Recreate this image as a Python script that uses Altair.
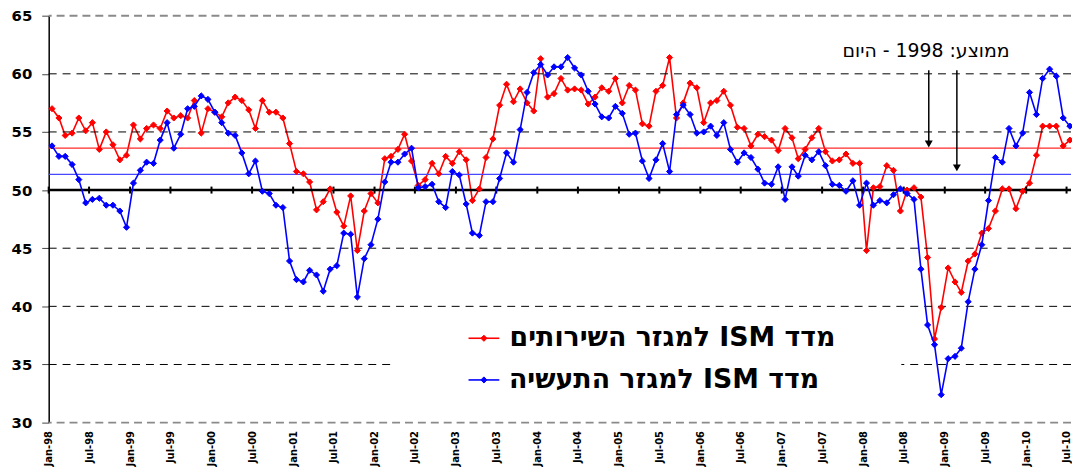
import altair as alt
import pandas as pd

# ---------------- data ----------------
services_name = "מדד ISM למגזר השירותים"
manufacturing_name = "מדד ISM למגזר התעשיה"

services = [
    57.0, 56.2, 54.7, 54.9, 56.2, 55.1, 55.8, 53.5, 55.0, 53.9, 52.6, 53.0,
    55.6, 54.4, 55.3, 55.6, 55.3, 56.8, 56.2, 56.4, 56.2, 57.7, 54.9, 57.0,
    56.7, 56.3, 57.5, 58.0, 57.7, 56.9, 55.3, 57.7, 56.7, 56.7, 56.2, 54.0,
    51.6, 51.4, 50.7, 48.3, 49.0, 50.1, 48.1, 46.9, 49.5, 44.8, 48.2, 49.7,
    48.9, 52.7, 52.9, 53.5, 54.8, 52.5, 50.4, 50.9, 52.3, 51.4, 52.9, 52.3,
    53.3, 52.6, 49.1, 50.1, 52.8, 54.4, 57.3, 59.1, 57.6, 58.7, 57.5, 56.8,
    61.3, 58.0, 58.3, 59.6, 58.6, 58.7, 58.6, 57.4, 58.0, 58.8, 58.5, 59.6,
    57.5, 59.0, 58.6, 55.7, 55.5, 58.5, 59.0, 61.4, 56.2, 57.5, 59.2, 58.8,
    55.8, 57.5, 57.7, 58.5, 57.3, 55.4, 55.3, 53.8, 54.8, 54.6, 54.3, 53.4,
    55.3, 54.5, 52.7, 53.5, 54.5, 55.3, 53.3, 52.5, 52.6, 53.1, 52.3, 52.3,
    44.8, 50.2, 50.3, 52.1, 51.7, 48.2, 50.0, 50.2, 49.4, 44.2, 37.2, 39.9,
    43.3, 42.1, 41.2, 43.9, 44.5, 46.3, 46.7, 48.2, 50.1, 50.1, 48.4, 49.9,
    50.6, 53.0, 55.5, 55.5, 55.5, 53.8, 54.3,
]

manufacturing = [
    53.8, 52.9, 52.9, 52.2, 50.9, 48.9, 49.2, 49.3, 48.7, 48.7, 48.2, 46.8,
    50.6, 51.7, 52.4, 52.3, 54.3, 55.8, 53.6, 54.8, 57.0, 57.2, 58.1, 57.8,
    56.7, 55.8, 54.9, 54.7, 53.2, 51.4, 52.5, 49.9, 49.7, 48.7, 48.5, 43.9,
    42.3, 42.1, 43.1, 42.7, 41.3, 43.2, 43.5, 46.3, 46.2, 40.8, 44.1, 45.3,
    47.5, 50.7, 52.4, 52.4, 53.1, 53.6, 50.2, 50.3, 50.5, 49.0, 48.5, 51.6,
    51.3, 48.8, 46.3, 46.1, 49.0, 49.0, 51.0, 53.2, 52.4, 55.2, 58.4, 60.1,
    60.8, 59.9, 60.6, 60.6, 61.4, 60.5, 59.9, 58.5, 57.4, 56.3, 56.2, 57.2,
    56.6, 54.8, 54.9, 52.5, 51.0, 52.6, 54.0, 51.6, 56.5, 57.3, 56.5, 54.9,
    55.0, 55.5, 54.7, 55.8, 53.5, 52.4, 53.2, 52.8, 51.8, 50.6, 50.5, 52.0,
    49.2, 52.0, 51.2, 53.0, 52.6, 53.3, 52.1, 50.5, 50.4, 49.9, 50.8, 48.7,
    50.6, 48.7, 49.1, 48.9, 49.6, 50.1, 49.7, 49.2, 43.2, 38.4, 36.7, 32.4,
    35.5, 35.7, 36.4, 40.4, 43.2, 45.3, 49.1, 52.8, 52.4, 55.3, 53.8, 54.9,
    58.4, 56.5, 59.6, 60.4, 59.8, 56.2, 55.5,
]

# monthly categories Jan-98 ... Jul-10
months = [f"{1998 + i // 12}-{i % 12 + 1:02d}-16T00:00:00" for i in range(len(services))]

# averages since 1998
avg_services = 53.6
avg_manufacturing = 51.35

# axis ticks: every January and July
tick_years = list(range(1998, 2011))
tick_dates = [f"{y}-{m:02d}-01T00:00:00" for y in tick_years for m in (1, 7)]
tick_values = [alt.DateTime(year=y, month=m, date=1) for y in tick_years for m in (1, 7)]

y_ticks = [30, 35, 40, 45, 50, 55, 60, 65]
grid_dark = [35, 40, 45, 55, 60]
grid_gray = [30, 65]

annotation_text = "ממוצע: 1998 - היום"

RLE, PDF = "\u202b", "\u202c"

# ---------------- tables ----------------
df_s = pd.DataFrame({"date": months, "value": services, "series": services_name})
df_m = pd.DataFrame({"date": months, "value": manufacturing, "series": manufacturing_name})
df_ticks = pd.DataFrame({"date": tick_dates})
one = pd.DataFrame({"k": [0]})

FONT = "DejaVu Sans"
RED = "#ff0000"
BLUE = "#0000ff"

x_scale = alt.Scale(domain=[alt.DateTime(year=1998, month=1, date=1),
                            alt.DateTime(year=2010, month=7, date=21)], nice=False)
y_scale = alt.Scale(domain=[30, 65], nice=False, zero=False)

x_axis = alt.Axis(values=tick_values, format="%b-%y", labelAngle=270,
                  labelOverlap=False, labelFlush=False)
y_axis = alt.Axis(values=y_ticks)

X = alt.X("date:T", scale=x_scale, axis=x_axis, title=None)
Y = alt.Y("value:Q", scale=y_scale, axis=y_axis, title=None)

# gridlines
grid1 = alt.Chart(pd.DataFrame({"value": grid_dark})).mark_rule(
    color="black", strokeWidth=1, strokeDash=[8, 6]
).encode(y=Y)
grid2 = alt.Chart(pd.DataFrame({"value": grid_gray})).mark_rule(
    color="#8a8a8a", strokeWidth=2, strokeDash=[8, 5]
).encode(y=Y)

# legend background (hides gridline)
legend_bg = alt.Chart(one).mark_rect(fill="white").encode(
    x=alt.value(346), x2=alt.value(859), y=alt.value(302), y2=alt.value(388))

# average lines
avg_r = alt.Chart(pd.DataFrame({"value": [avg_services]})).mark_rule(
    color="#ff2a2a", strokeWidth=1.3).encode(y=Y)
avg_b = alt.Chart(pd.DataFrame({"value": [avg_manufacturing]})).mark_rule(
    color="#4848ff", strokeWidth=1.3).encode(y=Y)

# the 50 line with its ticks
line50 = alt.Chart(pd.DataFrame({"value": [50]})).mark_rule(
    color="black", strokeWidth=2.5).encode(y=Y)
ticks50 = alt.Chart(df_ticks).mark_rule(color="black", strokeWidth=2).encode(
    x=X, y=alt.Y(datum=49.7), y2=alt.Y2(datum=50.3))

def series_layers(df, color):
    ln = alt.Chart(df).mark_line(color=color, strokeWidth=1.6).encode(x=X, y=Y)
    pt = alt.Chart(df).mark_point(shape="diamond", filled=True, color=color, size=38,
                                  opacity=1, stroke=color, strokeWidth=1).encode(x=X, y=Y)
    return [ln, pt]

red_layers = series_layers(df_s, RED)
blue_layers = series_layers(df_m, BLUE)

# manual legend
def legend_entry(label, color, ypix, xcenter):
    d = pd.DataFrame({"label": [RLE + label + PDF]})
    ln = alt.Chart(d).mark_rule(color=color, strokeWidth=1.6).encode(
        x=alt.value(423), x2=alt.value(454), y=alt.value(ypix))
    pt = alt.Chart(d).mark_point(shape="diamond", filled=True, color=color, size=38,
                                 opacity=1, stroke=color, strokeWidth=1).encode(
        x=alt.value(438.5), y=alt.value(ypix))
    tx = alt.Chart(d).mark_text(align="center", baseline="middle", font=FONT,
                                fontWeight="bold", fontSize=27, color="black").encode(
        x=alt.value(xcenter), y=alt.value(ypix), text="label:N")
    return [ln, pt, tx]

leg = (legend_entry(services_name, RED, 325, 628.5)
       + legend_entry(manufacturing_name, BLUE, 367, 620))

# annotation with arrows
ann = alt.Chart(pd.DataFrame({"t": [RLE + annotation_text + PDF]})).mark_text(
    align="center", baseline="middle", font=FONT, fontSize=19, color="black").encode(
    x=alt.value(884), y=alt.value(36), text="t:N")
shaft1 = alt.Chart(one).mark_rule(color="black", strokeWidth=1.5).encode(
    x=alt.value(886.7), y=alt.value(55), y2=alt.value(127))
head1 = alt.Chart(one).mark_point(shape="triangle-down", filled=True, color="black",
                                  size=64, opacity=1).encode(x=alt.value(886.7), y=alt.value(129.3))
shaft2 = alt.Chart(one).mark_rule(color="black", strokeWidth=1.5).encode(
    x=alt.value(915), y=alt.value(55), y2=alt.value(151))
head2 = alt.Chart(one).mark_point(shape="triangle-down", filled=True, color="black",
                                  size=64, opacity=1).encode(x=alt.value(915), y=alt.value(153.3))

chart = alt.layer(
    red_layers[0], grid1, grid2, legend_bg, avg_r, avg_b, line50, ticks50,
    red_layers[1], *blue_layers, *leg, ann, shaft1, head1, shaft2, head2,
).properties(
    width=1030, height=410,
    padding={"left": 41, "top": 6, "right": 1, "bottom": 46},
    autosize=alt.AutoSizeParams(type="none"),
    background="white",
).configure_view(stroke=None).configure_axisX(
    labelFont=FONT, labelFontWeight="bold", labelFontSize=10, labelColor="black",
    ticks=False, domain=False, grid=False, labelPadding=8, title=None,
).configure_axisY(
    grid=False, tickSize=7, tickColor="#444", tickWidth=1,
    labelFont=FONT, labelFontWeight="bold", labelFontSize=15,
    labelColor="black", labelPadding=10, domainColor="black",
    domainWidth=1.5, title=None,
)

chart.save("out.html", embed_options={"renderer": "svg", "actions": False})
